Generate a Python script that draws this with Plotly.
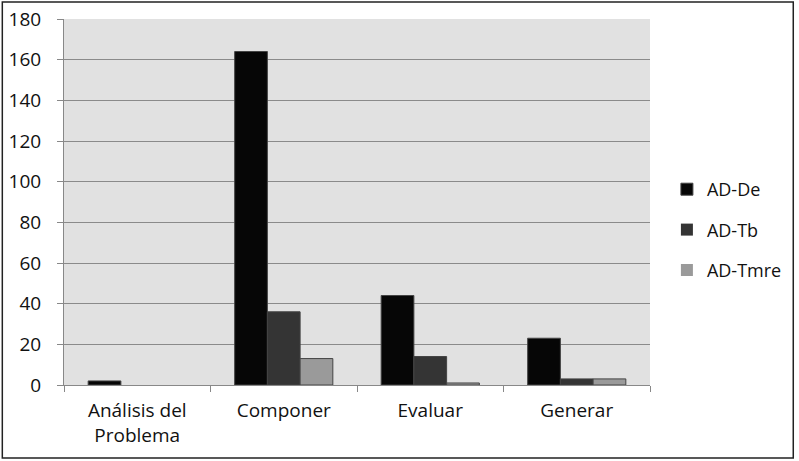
import plotly.graph_objects as go

categories = ["Análisis del<br>Problema", "Componer", "Evaluar", "Generar"]
ad_de = [2, 164, 44, 23]
ad_tb = [0, 36, 14, 3]
ad_tmre = [0, 13, 1, 3]

series = [
    ("AD-De", ad_de, "#060606"),
    ("AD-Tb", ad_tb, "#343434"),
    ("AD-Tmre", ad_tmre, "#9a9a9a"),
]

W, H = 799, 461
L, R, T, B = 64, 146, 19, 76
pw, ph = W - L - R, H - T - B

fig = go.Figure()
for name, vals, col in series:
    fig.add_trace(go.Bar(
        x=categories, y=vals, name=name,
        marker=dict(color=col,
                    line=dict(color="#444444", width=[1 if v else 0 for v in vals])),
        legendgroup=name,
    ))

fig.update_layout(
    width=W, height=H,
    margin=dict(l=L, r=R, t=T, b=B),
    paper_bgcolor="white",
    plot_bgcolor="#e1e1e1",
    barmode="group",
    bargap=0.33,
    bargroupgap=0,
    font=dict(family="Open Sans", size=19, color="#111111"),
    showlegend=True,
    legend=dict(
        x=(670 - L) / pw, y=(385 - 230) / ph, xanchor="left", yanchor="middle",
        font=dict(size=18), tracegroupgap=14, itemwidth=30,
        bgcolor="rgba(0,0,0,0)",
    ),
    xaxis=dict(
        showgrid=False, showline=True, linecolor="#888888", linewidth=1,
        ticks="outside", tickson="boundaries", ticklen=6, tickcolor="#888888",
        tickfont=dict(size=19), ticklabelstandoff=8, automargin=False,
        fixedrange=True,
    ),
    yaxis=dict(
        range=[0, 180], dtick=20, showgrid=True, gridcolor="#8a8a8a", gridwidth=1,
        showline=True, linecolor="#888888", linewidth=1, zeroline=False,
        ticks="outside", ticklen=6, tickcolor="#888888",
        tickfont=dict(size=19), ticklabelstandoff=12, automargin=False,
        fixedrange=True,
    ),
    shapes=[dict(
        type="rect", xref="paper", yref="paper",
        x0=(2 - L) / pw, x1=(797 - L) / pw,
        y0=(385 - 458) / ph, y1=(385 - 2) / ph,
        line=dict(color="#222222", width=1.5), fillcolor="rgba(0,0,0,0)",
        layer="below",
    )],
)

fig.write_html("out.html", config={"displayModeBar": False},
               post_script="document.body.style.margin='0';")
